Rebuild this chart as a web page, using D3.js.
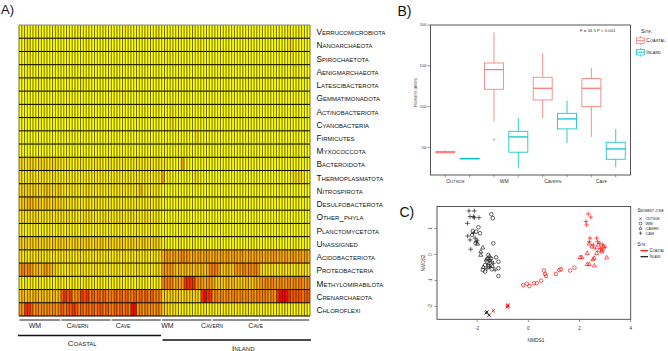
<!DOCTYPE html>
<html><head><meta charset="utf-8">
<script src="https://cdn.jsdelivr.net/npm/d3@7"></script>
<style>
body{margin:0;background:#fff;}
svg{display:block;font-family:"Liberation Sans",Arial,Helvetica,sans-serif;}
.sc{font-variant:small-caps;}
</style></head><body>
<svg id="c" width="668" height="351"></svg>
<script>
// ---------------- DATA ----------------
const phyla = ["Verrucomicrobiota","Nanoarchaeota","Spirochaetota","Aenigmarchaeota","Latescibacterota",
  "Gemmatimonadota","Actinobacteriota","Cyanobacteria","Firmicutes","Myxococcota","Bacteroidota",
  "Thermoplasmatota","Nitrospirota","Desulfobacterota","Other_phyla","Planctomycetota","Unassigned",
  "Acidobacteriota","Proteobacteria","Methylomirabilota","Crenarchaeota","Chloroflexi"];

// relative abundance level (0 = low / yellow ... 9 = high / red), columns grouped by
// Coastal WM | Coastal Cavern | Coastal Cave | Inland WM | Inland Cavern | Inland Cave
const heatLevels = [
"010000100000010 000000100000000100 000001000000000010 000000000001000000 00000000000000000 000000000010001000",
"001200000000000 000000000100000000 000000000000001000 010000000000010000 00000000000000000 000000000012000000",
"000100000000000 000000000000000000 000000000100000000 001000000000000000 00000000000000000 000000000001000000",
"000100000000000 000000000000000000 000000000000000000 000000000000000000 00000000000000000 000000000000100000",
"000000000000000 000000010000000000 000000000000000000 000000000000000000 00000000000000000 000000000000000000",
"000000000000000 000000000000000000 000010000000000000 000000000000000000 00000000000000000 000000000000000000",
"000000000000000 000000000000000000 000000000000000000 000100000000000000 00000000000000000 000000000000000000",
"000000000000000 000000000000000000 000000000000000000 000110000000000000 00000000000000000 000000000000000000",
"000000000000000 000000000000000000 000000000000000000 000000000000200000 00000000000000000 000000000000000000",
"000000000000000 000000000000000000 000000000000000000 000000000000000000 00000000000000000 000000000000000000",
"221222122212221 111101111011111011 111111011111111111 110000050000000000 00000000000000000 000000000000000000",
"211121112111211 111111111111111111 111111111111111111 501000000001200000 00000000000000000 000000000001212100",
"232323222332223 111211111211111111 111111111141111111 000000000000000000 00000000000000000 000000000000000000",
"233443332332322 221212111211211111 111111111111111111 000000000000000000 00000000000000000 000000000000000000",
"121212212112121 212121112121111211 111211121111211111 000000000000000000 00000000000000000 000000000000000000",
"110101101011011 101101011010110101 010110101101011010 000000000000000000 00000000000000000 000000000000000000",
"323232323232323 232223232322323223 222322232223222322 010000100001000000 00100000000000100 000010000000100000",
"212121222121212 121211212112121121 112121121211211212 455454565545454554 45454545545445454 545455454545545454",
"565653434544321 111211121111211111 111112111211111121 555543434343434346 66533433555656565 212121112121121211",
"101010110101011 010110101101011010 101101010110101010 666645458888555455 43333434333343344 556565565565656556",
"343434434343434 787855687867676766 676767667676767666 232323223232328988 56565656656565656 666565899987777677",
"558875656565656 767787676767677676 676767699565656565 322121011010101101 10101101010110101 011010101101010110"
];
const sites = ["Coastal","Inland"];
const zones = ["WM","Cavern","Cave"];
const zoneCounts = [[15,18,18],[18,17,18]];

// Panel B: richness boxplots [min, q1, median, q3, max]
const boxCats = ["Outside","WM","Cavern","Cave"];
const coastalStats = [[428,435,444,452,470],[818,1214,1454,1535,1911],[859,1083,1226,1361,1654],[631,1001,1226,1344,1474]];
const inlandStats  = [[358,362,366,369,374],[248,444,631,700,863],[554,729,851,920,1075],[260,358,484,566,725]];
const coastalOutliers = [[],[598],[],[]];
const inlandOutliers = [[],[],[],[]];
const richTicks = [500,1000,1500,2000];
const statLabel = "F = 34.5 P < 0.001";

// Panel C: NMDS coordinates [NMDS1, NMDS2]
const inlandOutside = [[-1.65,-2.25],[-1.62,-2.22],[-1.53,-2.34]];
const inlandWM = [[-1.45,1.55],[-1.39,1.40],[-1.95,1.05],[-2.17,0.91],[-2.04,0.88],[-1.89,0.82],[-2.06,0.43],
  [-1.37,0.43],[-1.56,-0.02],[-1.46,-0.15],[-1.26,-0.11],[-1.60,-0.28],[-1.17,-0.28],[-1.69,-0.41],
  [-1.17,-0.53],[-1.78,-0.60],[-1.69,-0.66],[-1.43,-0.57],[-1.17,-0.83],[-2.20,0.75],[-1.55,-0.45]];
const inlandCavern = [[-1.98,0.41],[-1.78,0.26],[-1.86,0.11],[-1.86,-0.02],[-1.52,-0.08],[-1.76,-0.49],
  [-1.60,-0.15],[-1.55,-0.35],[-1.40,-0.45],[-1.65,-0.20]];
const inlandCave = [[-2.32,1.68],[-2.11,1.68],[-2.28,1.46],[-2.15,1.46],[-2.11,1.42],[-1.93,1.42],[-2.38,1.20],
  [-2.15,0.82],[-2.37,0.71],[-2.28,0.56],[-2.08,0.63],[-2.04,0.49],[-2.25,0.20],[-1.50,-0.21],[-1.37,-0.34],
  [-1.52,-0.47],[-1.30,-0.60],[-2.00,0.55],[-1.62,-0.55],[-1.45,-0.28]];
const coastalOutside = [[-1.37,-2.17],[-0.81,-1.95],[-0.83,-2.02],[-0.79,-1.99]];
const coastalWM = [[-0.20,-1.18],[-0.06,-1.13],[0.04,-1.22],[0.22,-1.11],[0.33,-1.11],[0.50,-1.01],[0.61,-0.62],
  [0.65,-0.75],[0.69,-0.83],[1.08,-0.75],[1.21,-0.60],[1.27,-0.57],[1.63,-0.62],[1.80,-0.51]];
const coastalCavern = [[2.02,-0.11],[2.09,-0.11],[2.30,0.05],[2.30,-0.38],[2.38,-0.38],[2.58,-0.43],[2.52,-0.19],
  [2.57,-0.14],[3.06,-0.12],[2.67,0.05],[2.77,0.17],[2.38,0.41],[2.48,0.30],[2.87,0.11],[2.93,0.30],[2.73,0.37]];
const coastalCave = [[2.34,1.56],[2.44,1.44],[2.25,1.27],[2.28,1.14],[2.41,0.63],[2.38,0.49],[2.67,0.63],[2.71,0.49],
  [2.80,0.43],[2.91,0.37],[3.00,0.28],[2.83,0.24],[2.61,0.24],[2.54,0.37],[2.91,0.17]];
const xTicksC = [-2,0,2,4];
const yTicksC = [-2,-1,0,1];

// ---------------- DRAWING ----------------
const svg = d3.select("#c");
const COAST = "#F8766D", INL = "#00BFC4";

// ----- Panel A : heatmap -----
const levels = heatLevels.map(s => s.replace(/\s/g,"").split("").map(Number));
const nCols = levels[0].length;
levels.forEach((r,i)=>{ if(r.length!==nCols) console.error("row length mismatch", i, r.length); });
const hmX = d3.scaleBand().domain(d3.range(nCols)).range([19,310]);
const hmY = d3.scaleBand().domain(phyla).range([25,316]);
const heatColor = d3.scaleLinear().domain([0,3,6,9])
  .range(["#ffff00","#ffcc00","#ff7f00","#ff0500"]).interpolate(d3.interpolateRgb);

const gA = svg.append("g");
levels.forEach((row,i)=>{
  gA.selectAll(null).data(row).enter().append("rect")
    .attr("x",(d,j)=>hmX(j)).attr("y",hmY(phyla[i]))
    .attr("width",hmX.bandwidth()+0.15).attr("height",hmY.bandwidth()+0.15)
    .attr("fill",d=>heatColor(d));
});
gA.selectAll(null).data(d3.range(nCols+1)).enter().append("line")
  .attr("x1",j=>j<nCols?hmX(j):310).attr("x2",j=>j<nCols?hmX(j):310)
  .attr("y1",25).attr("y2",316).attr("stroke","#1a1a00").attr("stroke-width",0.75).attr("stroke-opacity",0.85);
gA.selectAll(null).data(d3.range(phyla.length+1)).enter().append("line")
  .attr("x1",19).attr("x2",310)
  .attr("y1",i=>i<phyla.length?hmY(phyla[i]):316).attr("y2",i=>i<phyla.length?hmY(phyla[i]):316)
  .attr("stroke",i=>i===0?"#888":"#000").attr("stroke-width",1);

gA.selectAll(null).data(phyla).enter().append("text").attr("class","sc")
  .attr("x",316.5).attr("y",d=>hmY(d)+hmY.bandwidth()/2+3.6)
  .attr("font-size",8.3).attr("fill","#111").text(d=>d);

// group brackets
let start = 0;
const zoneLabelPos = [[35,77.5,123],[167.5,212,255.7]];
zoneCounts.forEach((cnts,si)=>{
  cnts.forEach((c,zi)=>{
    const x1 = hmX(start)+0.4, x2 = (start+c<nCols?hmX(start+c):310)-0.8;
    gA.append("line").attr("x1",x1).attr("x2",x2).attr("y1",320).attr("y2",320)
      .attr("stroke","#222").attr("stroke-width",1.1);
    gA.append("text").attr("class","sc").attr("x",zoneLabelPos[si][zi]).attr("y",327.8)
      .attr("text-anchor","middle").attr("font-size",7).attr("fill","#222").text(zones[zi]);
    start += c;
  });
});
gA.append("line").attr("x1",18).attr("x2",161).attr("y1",335.5).attr("y2",335.5).attr("stroke","#111").attr("stroke-width",1.4);
gA.append("line").attr("x1",162.5).attr("x2",311).attr("y1",340).attr("y2",340).attr("stroke","#111").attr("stroke-width",1.4);
gA.append("text").attr("class","sc").attr("x",82.2).attr("y",346).attr("text-anchor","middle").attr("font-size",8).attr("fill","#222").text(sites[0]);
gA.append("text").attr("class","sc").attr("x",243.2).attr("y",350.5).attr("text-anchor","middle").attr("font-size",8).attr("fill","#222").text(sites[1]);

// panel labels
svg.append("text").attr("x",1).attr("y",14).attr("font-size",13).attr("fill","#111").text("A)");
svg.append("text").attr("x",397.5).attr("y",16).attr("font-size",14).attr("fill","#111").text("B)");
svg.append("text").attr("x",399.5).attr("y",216.5).attr("font-size",14).attr("fill","#111").text("C)");

// ----- Panel B : boxplots -----
const gB = svg.append("g");
const bx = d3.scaleBand().domain(boxCats).range([433.1,627.9]);
const by = d3.scaleLinear().domain([165,2000]).range([175,25]);
const dodge = 12.17, bw = 19;
gB.append("rect").attr("x",430.5).attr("y",25).attr("width",200).attr("height",150)
  .attr("fill","none").attr("stroke","#444").attr("stroke-width",0.9);
richTicks.forEach(t=>{
  gB.append("line").attr("x1",427.3).attr("x2",430.5).attr("y1",by(t)).attr("y2",by(t)).attr("stroke","#555").attr("stroke-width",0.6);
  gB.append("text").attr("x",426.5).attr("y",by(t)+1).attr("text-anchor","end").attr("font-size",3).attr("fill","#333").text(t);
});
gB.append("text").attr("class","sc").attr("transform","translate(417,92) rotate(-90)")
  .attr("text-anchor","middle").attr("font-size",3.8).attr("fill","#333").text("Richness (ASVs)");
gB.append("text").attr("x",597.7).attr("y",32.2).attr("text-anchor","middle").attr("font-size",4.3).attr("fill","#333").text(statLabel);

function drawBox(cx, st, col, outl){
  const [lo,q1,md,q3,hi] = st;
  gB.append("line").attr("x1",cx).attr("x2",cx).attr("y1",by(hi)).attr("y2",by(q3)).attr("stroke",col).attr("stroke-width",0.8);
  gB.append("line").attr("x1",cx).attr("x2",cx).attr("y1",by(q1)).attr("y2",by(lo)).attr("stroke",col).attr("stroke-width",0.8);
  gB.append("rect").attr("x",cx-bw/2).attr("y",by(q3)).attr("width",bw).attr("height",Math.max(by(q1)-by(q3),0.3))
    .attr("fill","#fff").attr("stroke",col).attr("stroke-width",0.8);
  gB.append("line").attr("x1",cx-bw/2).attr("x2",cx+bw/2).attr("y1",by(md)).attr("y2",by(md)).attr("stroke",col).attr("stroke-width",1.2);
  outl.forEach(o=>gB.append("circle").attr("cx",cx).attr("cy",by(o)).attr("r",0.9).attr("fill",col));
}
boxCats.forEach((c,i)=>{
  const cc = bx(c)+bx.bandwidth()/2;
  drawBox(cc-dodge, coastalStats[i], COAST, coastalOutliers[i]);
  drawBox(cc+dodge, inlandStats[i], INL, inlandOutliers[i]);
  [cc-dodge, cc+dodge].forEach(x=>gB.append("line").attr("x1",x).attr("x2",x).attr("y1",175).attr("y2",177.3).attr("stroke","#555").attr("stroke-width",0.6));
  gB.append("text").attr("class","sc").attr("x",cc-2).attr("y",182.8).attr("text-anchor","middle").attr("font-size",5).attr("fill","#333").text(c);
});
// legend B
gB.append("text").attr("class","sc").attr("x",641).attr("y",33).attr("font-size",5.6).attr("fill","#222").text("Site:");
[[COAST,40.7,sites[0]],[INL,52.2,sites[1]]].forEach(([col,y,lab])=>{
  gB.append("line").attr("x1",640.5).attr("x2",640.5).attr("y1",y-4.5).attr("y2",y+4.5).attr("stroke",col).attr("stroke-width",0.7);
  gB.append("rect").attr("x",636.5).attr("y",y-2.8).attr("width",8).attr("height",5.6).attr("fill","#fff").attr("stroke",col).attr("stroke-width",0.7);
  gB.append("line").attr("x1",636.5).attr("x2",644.5).attr("y1",y).attr("y2",y).attr("stroke",col).attr("stroke-width",0.9);
  gB.append("text").attr("class","sc").attr("x",646.3).attr("y",y+1.7).attr("font-size",5).attr("fill","#222").text(lab);
});

// ----- Panel C : NMDS -----
const gC = svg.append("g");
const cx = d3.scaleLinear().domain([-3.57,4]).range([437,630.7]);
const cy = d3.scaleLinear().domain([-2.5,1.85]).range([319.3,206.5]);
gC.append("rect").attr("x",437).attr("y",206.5).attr("width",193.7).attr("height",112.8)
  .attr("fill","none").attr("stroke","#444").attr("stroke-width",0.9);
xTicksC.forEach(t=>{
  gC.append("line").attr("x1",cx(t)).attr("x2",cx(t)).attr("y1",319.3).attr("y2",322).attr("stroke","#555").attr("stroke-width",0.6);
  gC.append("text").attr("x",cx(t)).attr("y",329.5).attr("text-anchor","middle").attr("font-size",4.5).attr("fill","#333").text(t);
});
yTicksC.forEach(t=>{
  gC.append("line").attr("x1",434.3).attr("x2",437).attr("y1",cy(t)).attr("y2",cy(t)).attr("stroke","#555").attr("stroke-width",0.6);
  gC.append("text").attr("transform",`translate(432.3,${cy(t)}) rotate(-90)`).attr("text-anchor","middle").attr("font-size",4.5).attr("fill","#333").text(t);
});
gC.append("text").attr("x",536).attr("y",342).attr("text-anchor","middle").attr("font-size",4.8).attr("fill","#333").text("NMDS1");
gC.append("text").attr("transform","translate(424.5,262.9) rotate(-90)").attr("text-anchor","middle").attr("font-size",4.8).attr("fill","#333").text("NMDS2");

function shapePath(type){
  if(type==="times") return "M-1.6,-1.6L1.6,1.6M-1.6,1.6L1.6,-1.6";
  if(type==="plus") return "M-2.3,0H2.3M0,-2.3V2.3";
  if(type==="triangle") return "M0,-2.2L2,1.3L-2,1.3Z";
  return "M1.8,0A1.8,1.8,0,1,1,-1.8,0A1.8,1.8,0,1,1,1.8,0Z";
}
const groupsC = [
  [inlandOutside,"times","#111"],[inlandWM,"circle","#111"],[inlandCavern,"triangle","#111"],[inlandCave,"plus","#111"],
  [coastalOutside,"times","#f00"],[coastalWM,"circle","#f00"],[coastalCavern,"triangle","#f00"],[coastalCave,"plus","#f00"]
];
groupsC.forEach(([pts,shape,col])=>{
  gC.selectAll(null).data(pts).enter().append("path")
    .attr("transform",d=>`translate(${cx(d[0])},${cy(d[1])})`)
    .attr("d",shapePath(shape)).attr("fill","none").attr("stroke",col).attr("stroke-width",shape==="times"?0.9:0.65);
});
// legend C
gC.append("text").attr("class","sc").attr("x",637.5).attr("y",211.5).attr("font-size",4.6).attr("fill","#222").text("Sediment zone");
[["times",boxCats[0],218.7],["circle",boxCats[1],223.5],["triangle",boxCats[2],228.3],["plus",boxCats[3],233.2]].forEach(([sh,lab,y])=>{
  gC.append("path").attr("transform",`translate(640.5,${y}) scale(0.75)`).attr("d",shapePath(sh)).attr("fill","none").attr("stroke","#222").attr("stroke-width",0.8);
  gC.append("text").attr("class","sc").attr("x",645.5).attr("y",y+1.4).attr("font-size",4).attr("fill","#222").text(lab);
});
gC.append("text").attr("class","sc").attr("x",637.5).attr("y",245.5).attr("font-size",4.6).attr("fill","#222").text("Site:");
[["#f00",250.7,sites[0]],["#111",256.7,sites[1]]].forEach(([col,y,lab])=>{
  gC.append("line").attr("x1",640.5).attr("x2",648).attr("y1",y).attr("y2",y).attr("stroke",col).attr("stroke-width",1.2);
  gC.append("text").attr("class","sc").attr("x",649.5).attr("y",y+1.5).attr("font-size",4.5).attr("fill","#222").text(lab);
});
</script>
</body></html>
